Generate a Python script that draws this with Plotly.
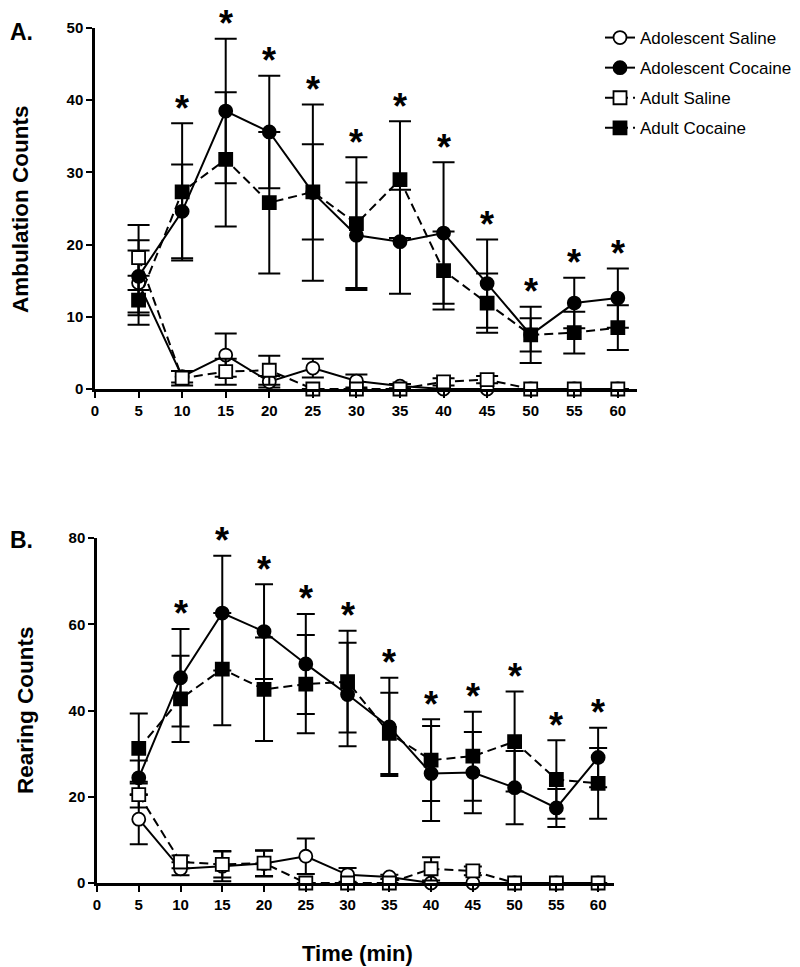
import plotly.graph_objects as go

time_min = [5, 10, 15, 20, 25, 30, 35, 40, 45, 50, 55, 60]

# A. Ambulation counts (mean, SEM)
amb_adol_sal = [14.7, 1.7, 4.7, 1.0, 2.9, 1.1, 0.4, 0, 0, 0, 0, 0]
amb_adol_sal_err = [4.5, 0.8, 3.0, 0.8, 1.3, 0.9, 0.3, 0, 0, 0, 0, 0]
amb_adol_coc = [15.6, 24.6, 38.5, 35.6, 27.2, 21.3, 20.4, 21.6, 14.6, 7.5, 11.9, 12.6]
amb_adol_coc_err = [5.0, 6.5, 10.0, 7.8, 12.2, 7.3, 7.2, 9.8, 6.1, 3.9, 3.5, 4.1]
amb_adult_sal = [18.2, 1.5, 2.4, 2.6, 0, 0, 0, 1.0, 1.3, 0, 0, 0]
amb_adult_sal_err = [4.5, 1.0, 1.8, 2.0, 0, 0, 0, 0.5, 0.5, 0, 0, 0]
amb_adult_coc = [12.3, 27.3, 31.8, 25.8, 27.3, 22.9, 29.0, 16.4, 11.9, 7.5, 7.8, 8.5]
amb_adult_coc_err = [3.4, 9.5, 9.3, 9.8, 6.6, 9.2, 8.1, 5.4, 4.1, 2.3, 2.9, 3.1]

# B. Rearing counts (mean, SEM)
rear_adol_sal = [14.8, 3.3, 3.9, 4.5, 6.2, 1.9, 1.4, 0, 0, 0, 0, 0]
rear_adol_sal_err = [5.8, 1.5, 3.5, 3.0, 4.1, 1.6, 0.5, 0, 0, 0, 0, 0]
rear_adol_coc = [24.4, 47.6, 62.6, 58.3, 50.8, 43.7, 36.2, 25.4, 25.6, 22.1, 17.4, 29.1]
rear_adol_coc_err = [4.0, 11.3, 13.3, 11.0, 11.6, 12.0, 11.4, 11.0, 9.4, 8.5, 4.4, 6.9]
rear_adult_sal = [20.5, 4.9, 4.3, 4.6, 0, 0, 0, 3.3, 2.8, 0, 0, 0]
rear_adult_sal_err = [3.0, 1.5, 3.0, 3.0, 0, 0, 0, 2.7, 1.0, 0, 0, 0]
rear_adult_coc = [31.2, 42.7, 49.6, 44.9, 46.1, 46.7, 34.7, 28.5, 29.4, 32.8, 24.0, 23.1]
rear_adult_coc_err = [8.1, 10.0, 13.0, 12.0, 11.4, 11.8, 9.4, 9.5, 10.3, 11.6, 9.1, 8.2]

# times with a significant cocaine effect
sig_amb = [10, 15, 20, 25, 30, 35, 40, 45, 50, 55, 60]
sig_rear = [10, 15, 20, 25, 30, 35, 40, 45, 50, 55, 60]

W, H = 800, 967
OFF = 8  # page body margin
font_main = "Liberation Sans, Arial, sans-serif"


def px(x):
    return max(x - OFF, 0) / W


def py(y):
    return 1 - max(y - OFF, 0) / H


fig = go.Figure()


def add_group(name, y, err, filled, square, dashed, xa, ya, show, capw):
    fig.add_trace(go.Scatter(
        x=time_min, y=y, name=name, mode="lines+markers", legendgroup=name,
        xaxis=xa, yaxis=ya, showlegend=show, cliponaxis=False,
        line=dict(color="black", width=2, dash="9px,5px" if dashed else "solid"),
        marker=dict(symbol="square" if square else "circle", size=13,
                    color="black" if filled else "white",
                    line=dict(color="black", width=1.8)),
        error_y=dict(type="data", array=err, visible=True, color="black",
                     thickness=2, width=capw),
    ))


panels = [
    ("x", "y", True, 11, [amb_adol_sal, amb_adol_coc, amb_adult_sal, amb_adult_coc],
     [amb_adol_sal_err, amb_adol_coc_err, amb_adult_sal_err, amb_adult_coc_err]),
    ("x2", "y2", False, 9, [rear_adol_sal, rear_adol_coc, rear_adult_sal, rear_adult_coc],
     [rear_adol_sal_err, rear_adol_coc_err, rear_adult_sal_err, rear_adult_coc_err]),
]
names = ["Adolescent Saline", "Adolescent Cocaine", "Adult Saline", "Adult Cocaine"]
styles = [(False, False, False), (True, False, False), (False, True, True), (True, True, True)]

for xa, ya, show, capw, ys, errs in panels:
    for nm, (filled, square, dashed), yv, ev in zip(names, styles, ys, errs):
        add_group(nm, yv, ev, filled, square, dashed, xa, ya, show, capw)

# asterisks above the highest cocaine error bar
annotations = []
for xa, ya, sig, ya_c, ea_c, yb_c, eb_c in [
    ("x", "y", sig_amb, amb_adol_coc, amb_adol_coc_err, amb_adult_coc, amb_adult_coc_err),
    ("x2", "y2", sig_rear, rear_adol_coc, rear_adol_coc_err, rear_adult_coc, rear_adult_coc_err),
]:
    for t in sig:
        i = time_min.index(t)
        top = max(ya_c[i] + ea_c[i], yb_c[i] + eb_c[i])
        annotations.append(dict(x=t, y=top, xref=xa, yref=ya, text="<b>*</b>",
                                showarrow=False, xanchor="center", yanchor="middle", yshift=15,
                                font=dict(size=36, color="black", family=font_main)))

# titles and panel labels
title_font = dict(size=22.5, color="black", family=font_main)
annotations += [
    dict(x=px(20), y=py(210), xref="paper", yref="paper", text="<b>Ambulation Counts</b>",
         textangle=-90, showarrow=False, xanchor="center", yanchor="middle", font=title_font),
    dict(x=px(25), y=py(710), xref="paper", yref="paper", text="<b>Rearing Counts</b>",
         textangle=-90, showarrow=False, xanchor="center", yanchor="middle", font=title_font),
    dict(x=px(357), y=py(953), xref="paper", yref="paper", text="<b>Time (min)</b>",
         showarrow=False, xanchor="center", yanchor="middle",
         font=dict(size=22, color="black", family=font_main)),
    dict(x=px(0), y=py(32), xref="paper", yref="paper", text="<b>A.</b>",
         xanchor="left", yanchor="middle", showarrow=False,
         font=dict(size=23, color="black", family=font_main)),
    dict(x=px(0), y=py(540), xref="paper", yref="paper", text="<b>B.</b>",
         xanchor="left", yanchor="middle", showarrow=False,
         font=dict(size=23, color="black", family=font_main)),
]

axis_common = dict(showgrid=False, zeroline=False, showline=True, linecolor="black",
                   linewidth=2.5, ticks="outside", ticklen=6, tickwidth=2,
                   tickcolor="black", automargin=False,
                   tickfont=dict(size=15, color="black", family=font_main, weight="bold"))

fig.update_layout(
    width=W, height=H,
    margin=dict(l=0, r=0, t=0, b=0, pad=0, autoexpand=False),
    plot_bgcolor="white", paper_bgcolor="white",
    font=dict(family=font_main, color="black"),
    xaxis=dict(domain=[px(95), px(637)], range=[0, 62.2], tickvals=list(range(0, 61, 5)),
               anchor="y", **axis_common),
    yaxis=dict(domain=[py(389), py(28)], range=[0, 50], tickvals=[0, 10, 20, 30, 40, 50],
               anchor="x", **axis_common),
    xaxis2=dict(domain=[px(97), px(614)], range=[0, 61.9], tickvals=list(range(0, 61, 5)),
                anchor="y2", **axis_common),
    yaxis2=dict(domain=[py(883), py(538)], range=[0, 80], tickvals=[0, 20, 40, 60, 80],
                anchor="x2", **axis_common),
    legend=dict(x=px(600), y=py(20), xanchor="left", yanchor="top",
                font=dict(size=17, color="black", family=font_main),
                bgcolor="rgba(0,0,0,0)", itemwidth=30, tracegroupgap=5),
    annotations=annotations,
    showlegend=True,
)

fig.write_html("out.html")
